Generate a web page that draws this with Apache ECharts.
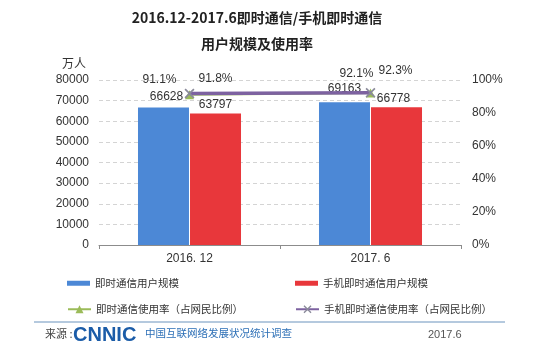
<!DOCTYPE html>
<html>
<head>
<meta charset="utf-8">
<script src="https://cdn.jsdelivr.net/npm/echarts@6/dist/echarts.min.js"></script>
<style>
html,body{margin:0;padding:0;background:#fff;}
#c{width:539px;height:354px;}
</style>
</head>
<body>
<div id="c"></div>
<script>
var categories = ['2016. 12', '2017. 6'];
var imUsers = [66628, 69163];
var mobileImUsers = [63797, 66778];
var imRate = [91.1, 92.1];
var mobileImRate = [91.8, 92.3];
var leftTicks = [0, 10000, 20000, 30000, 40000, 50000, 60000, 70000, 80000];
var rightTicks = [0, 20, 40, 60, 80, 100];

var FONT = '"Liberation Sans", Arial, "Noto Sans CJK SC", sans-serif';
var CJK = '"Noto Sans CJK SC", sans-serif';
var xMark = 'path://M0,1.2L1.2,0L5,3.8L8.8,0L10,1.2L6.2,5L10,8.8L8.8,10L5,6.2L1.2,10L0,8.8L3.8,5Z';

// label offsets per point (style only)
var imUserOffsets = [[3, 0], [0, -3]];
var mobileUserOffsets = [[0, 0], [-3, 0]];
var imRateOffsets = [[-30, 1], [-14, -4]];
var mobileRateOffsets = [[26, 1], [25, -6]];

function withOffsets(values, offsets) {
  return values.map(function (v, i) { return {value: v, label: {offset: offsets[i]}}; });
}

var chart = echarts.init(document.getElementById('c'));
var legendText = {fontSize: 10.5, color: '#333', fontFamily: CJK};
chart.setOption({
  backgroundColor: '#fff',
  animation: false,
  title: {
    text: '2016.12-2017.6即时通信/手机即时通信\n用户规模及使用率',
    left: 252, top: 0, textAlign: 'center',
    textStyle: {fontSize: 14, fontWeight: 'bold', color: '#222', fontFamily: CJK, lineHeight: 26}
  },
  grid: {left: 99, right: 78, top: 80, bottom: 109, containLabel: false},
  legend: [
    {left: 67, top: 278, padding: 0, itemWidth: 23, itemHeight: 5, itemGap: 4, data: [{name: '即时通信用户规模', icon: 'rect'}], textStyle: legendText},
    {left: 295, top: 278, padding: 0, itemWidth: 23, itemHeight: 5, data: [{name: '手机即时通信用户规模', icon: 'rect'}], textStyle: legendText},
    {left: 67, top: 304, padding: 0, itemWidth: 23, itemHeight: 10, data: ['即时通信使用率（占网民比例）'], textStyle: legendText},
    {left: 295, top: 304, padding: 0, itemWidth: 23, itemHeight: 10, data: ['手机即时通信使用率（占网民比例）'], textStyle: legendText}
  ],
  xAxis: {
    type: 'category', data: categories,
    axisLine: {lineStyle: {color: '#8c8c8c'}},
    axisTick: {show: true, length: 4, lineStyle: {color: '#8c8c8c'}},
    axisLabel: {color: '#333', fontSize: 12, fontFamily: FONT, margin: 8}
  },
  yAxis: [
    {
      type: 'value', min: leftTicks[0], max: leftTicks[leftTicks.length - 1], interval: leftTicks[1] - leftTicks[0],
      axisLine: {show: false}, axisTick: {show: false},
      axisLabel: {color: '#333', fontSize: 12, fontFamily: FONT, margin: 10, formatter: function (v) { return String(v); }},
      splitLine: {lineStyle: {color: '#d4d4d4', type: [4, 3]}}
    },
    {
      type: 'value', min: rightTicks[0], max: rightTicks[rightTicks.length - 1], interval: rightTicks[1] - rightTicks[0],
      axisLine: {show: false}, axisTick: {show: false},
      axisLabel: {color: '#333', fontSize: 12, fontFamily: FONT, margin: 11, formatter: '{value}%'},
      splitLine: {show: false}
    }
  ],
  series: [
    {
      name: '即时通信用户规模', type: 'bar', data: withOffsets(imUsers, imUserOffsets),
      barWidth: 51, barGap: '2%',
      itemStyle: {color: '#4c88d6'},
      label: {show: true, position: 'top', distance: 5, color: '#333', fontSize: 12, fontFamily: FONT},
      z: 2
    },
    {
      name: '手机即时通信用户规模', type: 'bar', data: withOffsets(mobileImUsers, mobileUserOffsets),
      barWidth: 51,
      itemStyle: {color: '#e8373b'},
      label: {show: true, position: 'top', distance: 3, color: '#333', fontSize: 12, fontFamily: FONT},
      z: 2
    },
    {
      name: '即时通信使用率（占网民比例）', type: 'line', yAxisIndex: 1, data: withOffsets(imRate, imRateOffsets),
      symbol: 'triangle', symbolSize: 9,
      lineStyle: {color: '#9bbb59', width: 2}, itemStyle: {color: '#9bbb59'},
      label: {show: true, position: 'top', color: '#333', fontSize: 12, fontFamily: FONT, formatter: '{c}%'},
      z: 3
    },
    {
      name: '手机即时通信使用率（占网民比例）', type: 'line', yAxisIndex: 1, data: withOffsets(mobileImRate, mobileRateOffsets),
      symbol: xMark, symbolSize: 10,
      lineStyle: {color: '#7d62a0', width: 3.5}, itemStyle: {color: '#8a8a9a'},
      label: {show: true, position: 'top', color: '#333', fontSize: 12, fontFamily: FONT, formatter: '{c}%'},
      z: 4
    }
  ],
  graphic: [
    {type: 'text', left: 62, top: 57, style: {text: '万人', fill: '#333', font: '12px ' + CJK}},
    {type: 'line', shape: {x1: 34, y1: 322, x2: 505, y2: 322}, style: {stroke: '#6a93bd', lineWidth: 1}},
    {type: 'text', left: 45, top: 328, style: {text: '来源 :', fill: '#444', font: '11px ' + CJK}},
    {type: 'text', left: 73, top: 325, style: {text: 'CNNIC', fill: '#1b5ca8', font: 'bold 20px "Liberation Sans", sans-serif'}},
    {type: 'text', left: 145, top: 328, style: {text: '中国互联网络发展状况统计调查', fill: '#2c6fb6', font: '10.5px ' + CJK}},
    {type: 'text', left: 428, top: 329, style: {text: '2017.6', fill: '#555', font: '11px ' + FONT}}
  ]
});
</script>
</body>
</html>
